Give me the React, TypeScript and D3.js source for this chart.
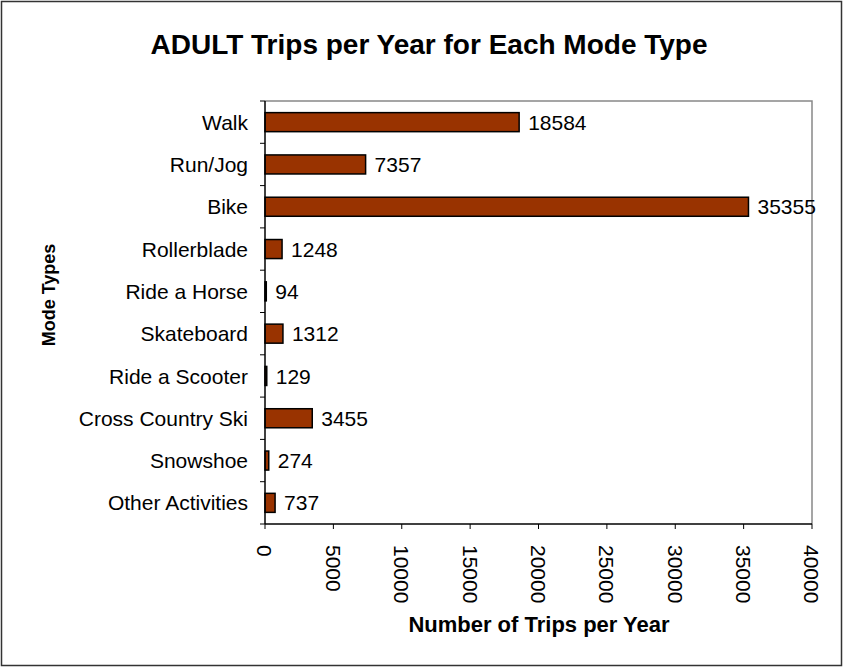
import { useEffect, useRef } from "react"
import * as d3 from "d3"

// mode types, top to bottom
const modes = [
  "Walk",
  "Run/Jog",
  "Bike",
  "Rollerblade",
  "Ride a Horse",
  "Skateboard",
  "Ride a Scooter",
  "Cross Country Ski",
  "Snowshoe",
  "Other Activities",
]
const trips = [18584, 7357, 35355, 1248, 94, 1312, 129, 3455, 274, 737]
const xTicks = [0, 5000, 10000, 15000, 20000, 25000, 30000, 35000, 40000]

const W = 843
const H = 667
const FONT = "'Liberation Sans', Arial, sans-serif"

export default function App() {
  const svgRef = useRef<SVGSVGElement>(null)

  useEffect(() => {
    if (!svgRef.current) return
    const svg = d3.select(svgRef.current)
    svg.selectAll("*").remove()

    const left = 265
    const right = 812
    const top = 101
    const bottom = 524

    const x = d3.scaleLinear().domain([0, 40000]).range([left, right])
    const y = d3.scaleBand<string>().domain(modes).range([top, bottom]).paddingInner(0.55).paddingOuter(0.275)
    const yEdge = d3.scaleLinear().domain([0, modes.length]).range([top, bottom])

    // outer chart frame
    svg.append("rect")
      .attr("x", 1.5).attr("y", 1.5)
      .attr("width", W - 3).attr("height", H - 3)
      .attr("fill", "#fff")
      .attr("stroke", "#333").attr("stroke-width", 1.5)

    // plot area border (top/right gray)
    svg.append("path")
      .attr("d", `M${left},${top}H${right}V${bottom}`)
      .attr("fill", "none").attr("stroke", "#888").attr("stroke-width", 1.5)

    // bars
    svg.selectAll("rect.bar")
      .data(trips)
      .join("rect")
      .attr("class", "bar")
      .attr("x", x(0))
      .attr("y", (_, i) => y(modes[i]) || 0)
      .attr("width", d => x(d) - x(0))
      .attr("height", y.bandwidth())
      .attr("fill", "#993300")
      .attr("stroke", "#000").attr("stroke-width", 1.5)

    // value labels
    svg.selectAll("text.val")
      .data(trips)
      .join("text")
      .attr("class", "val")
      .attr("x", d => x(d) + 9)
      .attr("y", (_, i) => (y(modes[i]) || 0) + y.bandwidth() / 2)
      .attr("dy", "0.36em")
      .attr("font-family", FONT).attr("font-size", 21)
      .text(d => String(d))

    // axes lines
    svg.append("line")
      .attr("x1", left).attr("x2", left).attr("y1", top).attr("y2", bottom)
      .attr("stroke", "#000").attr("stroke-width", 1.5)
    svg.append("line")
      .attr("x1", left).attr("x2", right).attr("y1", bottom).attr("y2", bottom)
      .attr("stroke", "#000").attr("stroke-width", 1.5)

    // y ticks at category boundaries
    svg.selectAll("line.ytick")
      .data(d3.range(modes.length + 1))
      .join("line")
      .attr("class", "ytick")
      .attr("x1", left - 5).attr("x2", left)
      .attr("y1", d => yEdge(d)).attr("y2", d => yEdge(d))
      .attr("stroke", "#000").attr("stroke-width", 1)

    // category labels
    svg.selectAll("text.cat")
      .data(modes)
      .join("text")
      .attr("class", "cat")
      .attr("x", left - 17)
      .attr("y", d => (y(d) || 0) + y.bandwidth() / 2)
      .attr("dy", "0.36em")
      .attr("text-anchor", "end")
      .attr("font-family", FONT).attr("font-size", 21)
      .text(d => d)

    // x ticks
    svg.selectAll("line.xtick")
      .data(xTicks)
      .join("line")
      .attr("class", "xtick")
      .attr("x1", d => x(d)).attr("x2", d => x(d))
      .attr("y1", bottom).attr("y2", bottom + 5)
      .attr("stroke", "#000").attr("stroke-width", 1)

    svg.selectAll("text.xlab")
      .data(xTicks)
      .join("text")
      .attr("class", "xlab")
      .attr("transform", d => `translate(${x(d)},${bottom + 21}) rotate(90)`)
      .attr("dy", "0.36em")
      .attr("font-family", FONT).attr("font-size", 21)
      .text(d => String(d))

    // title
    svg.append("text")
      .attr("x", 429).attr("y", 54)
      .attr("text-anchor", "middle")
      .attr("font-family", FONT).attr("font-size", 28).attr("font-weight", "bold")
      .text("ADULT Trips per Year for Each Mode Type")

    // axis titles
    svg.append("text")
      .attr("x", 539).attr("y", 632)
      .attr("text-anchor", "middle")
      .attr("font-family", FONT).attr("font-size", 22).attr("font-weight", "bold")
      .text("Number of Trips per Year")

    svg.append("text")
      .attr("transform", `translate(55,295) rotate(-90)`)
      .attr("text-anchor", "middle")
      .attr("font-family", FONT).attr("font-size", 18).attr("font-weight", "bold")
      .text("Mode Types")
  }, [])

  return (
    <svg
      ref={svgRef}
      width={W}
      height={H}
      style={{ position: "absolute", left: 0, top: 0, display: "block" }}
    />
  )
}
